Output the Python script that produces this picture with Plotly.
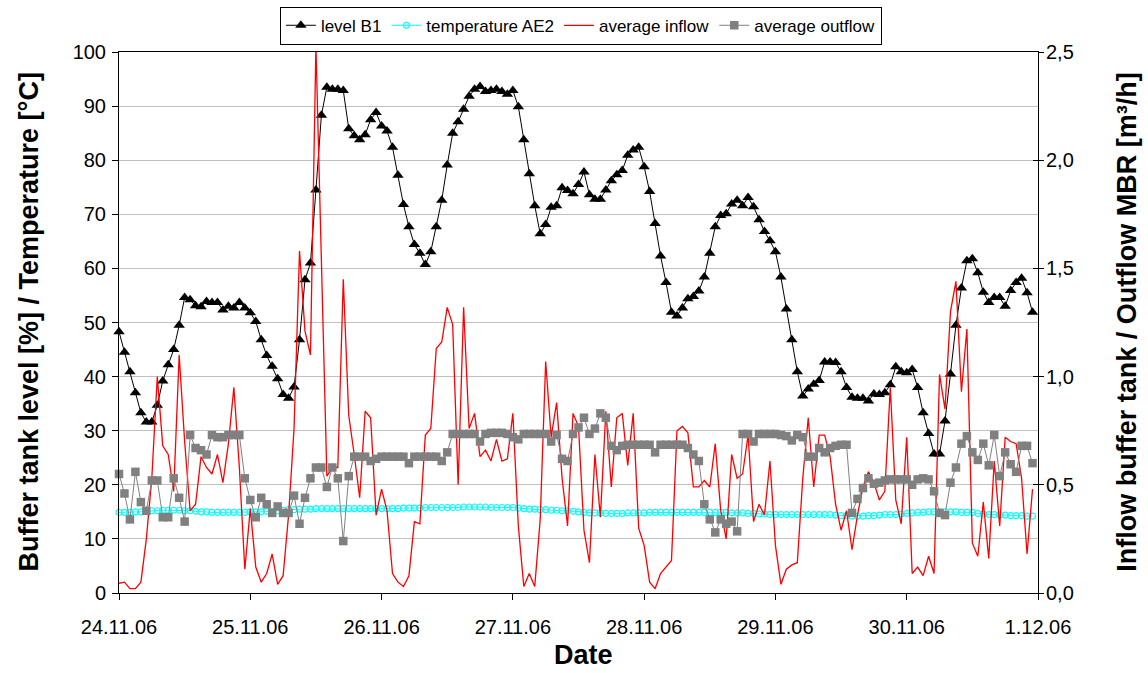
import pandas as pd
import plotly.graph_objects as go

# Hourly readings, 24.11.2006 00:00 - 30.11.2006 23:00 (one row of 24 values per day)
level_b1 = [
    48.3, 44.5, 40.9, 37.0, 33.3, 31.6, 31.6, 34.7, 39.2, 42.2, 45.0, 49.5, 54.6, 54.2, 53.1, 52.9, 53.9, 53.7, 53.7, 52.3, 53.0, 52.7, 53.7, 52.7,
    51.8, 50.2, 46.8, 43.9, 41.9, 39.6, 36.7, 36.0, 38.1, 46.8, 57.9, 61.0, 74.5, 88.3, 93.5, 93.1, 93.1, 92.9, 85.8, 84.5, 83.8, 84.7, 87.5, 88.8,
    86.3, 85.4, 82.4, 77.2, 71.8, 67.7, 64.4, 62.8, 60.7, 63.1, 67.7, 72.6, 79.1, 85.0, 87.1, 89.4, 91.8, 93.1, 93.6, 92.7, 92.9, 93.1, 92.7, 92.2,
    92.9, 89.9, 83.8, 77.5, 71.6, 66.4, 68.1, 71.3, 71.6, 74.9, 74.4, 73.8, 75.5, 77.8, 73.6, 72.8, 72.8, 74.5, 76.2, 77.3, 78.1, 80.9, 81.9, 82.4,
    78.8, 74.2, 68.3, 62.3, 57.4, 51.9, 51.2, 52.7, 54.4, 54.8, 55.8, 58.4, 62.8, 67.7, 69.8, 70.1, 71.9, 72.6, 71.6, 73.1, 71.4, 69.0, 66.8, 65.1,
    63.1, 58.4, 52.5, 46.8, 40.9, 36.4, 37.7, 38.6, 39.3, 42.7, 42.7, 42.6, 40.9, 38.0, 36.2, 36.0, 36.0, 35.5, 36.8, 36.7, 37.0, 38.5, 41.8, 40.9,
    40.7, 41.3, 38.0, 33.3, 29.5, 25.7, 25.7, 31.8, 40.5, 49.5, 56.4, 61.4, 61.8, 59.2, 55.6, 53.7, 54.6, 54.6, 53.0, 55.9, 57.4, 58.2, 55.5, 51.9,
]

temperature_ae2 = [
    14.9, 14.9, 14.9, 15.0, 15.0, 15.1, 15.2, 15.2, 15.3, 15.3, 15.3, 15.3, 15.2, 15.2, 15.1, 15.0, 15.0, 14.9, 14.9, 14.9, 14.9, 14.9, 14.9, 14.9,
    15.0, 15.0, 15.0, 15.1, 15.1, 15.2, 15.3, 15.4, 15.4, 15.5, 15.5, 15.5, 15.6, 15.6, 15.6, 15.6, 15.6, 15.6, 15.6, 15.6, 15.6, 15.6, 15.6, 15.6,
    15.6, 15.6, 15.6, 15.6, 15.7, 15.7, 15.7, 15.7, 15.8, 15.8, 15.8, 15.8, 15.8, 15.8, 15.8, 15.9, 15.9, 15.9, 15.9, 15.9, 15.8, 15.8, 15.8, 15.8,
    15.8, 15.7, 15.6, 15.5, 15.5, 15.4, 15.4, 15.3, 15.3, 15.2, 15.2, 15.1, 15.0, 14.9, 14.8, 14.8, 14.8, 14.7, 14.7, 14.7, 14.7, 14.8, 14.8, 14.8,
    14.8, 14.9, 14.9, 14.9, 14.9, 14.9, 14.9, 14.9, 14.9, 14.9, 14.9, 14.9, 14.9, 14.9, 14.9, 14.9, 14.8, 14.8, 14.8, 14.7, 14.7, 14.6, 14.6, 14.5,
    14.5, 14.5, 14.5, 14.5, 14.5, 14.5, 14.5, 14.5, 14.5, 14.5, 14.5, 14.4, 14.3, 14.3, 14.2, 14.2, 14.2, 14.3, 14.3, 14.4, 14.5, 14.5, 14.5, 14.6,
    14.7, 14.8, 14.9, 14.9, 15.0, 15.0, 15.0, 15.0, 15.0, 15.0, 14.9, 14.9, 14.9, 14.7, 14.6, 14.5, 14.5, 14.4, 14.4, 14.3, 14.3, 14.3, 14.2, 14.2,
]

average_inflow = [
    0.045, 0.05, 0.02, 0.02, 0.05, 0.25, 0.53, 1.00, 0.68, 0.64, 0.47, 1.10, 0.70, 0.38, 0.41, 0.63, 0.58, 0.55, 0.64, 0.51, 0.69, 0.95, 0.58, 0.11,
    0.39, 0.12, 0.05, 0.09, 0.18, 0.04, 0.08, 0.36, 0.76, 1.58, 1.21, 1.10, 2.53, 1.55, 0.54, 0.58, 0.58, 1.45, 0.82, 0.64, 0.44, 0.84, 0.81, 0.36,
    0.48, 0.38, 0.09, 0.05, 0.03, 0.08, 0.33, 0.32, 0.73, 0.76, 1.13, 1.16, 1.32, 1.24, 0.50, 1.32, 0.76, 0.83, 0.63, 0.66, 0.61, 0.71, 0.61, 0.62,
    0.83, 0.31, 0.03, 0.09, 0.03, 0.34, 1.07, 0.72, 0.88, 0.53, 0.31, 0.83, 0.77, 0.29, 0.14, 0.64, 0.35, 0.84, 0.49, 0.81, 0.83, 0.59, 0.83, 0.30,
    0.22, 0.05, 0.02, 0.09, 0.12, 0.15, 0.75, 0.77, 0.74, 0.49, 0.49, 0.52, 0.49, 0.69, 0.38, 0.25, 0.64, 0.53, 0.55, 0.73, 0.33, 0.41, 0.36, 0.61,
    0.22, 0.04, 0.11, 0.13, 0.14, 0.53, 0.81, 0.49, 0.73, 0.73, 0.63, 0.41, 0.29, 0.38, 0.20, 0.36, 0.49, 0.56, 0.51, 0.43, 0.47, 0.95, 0.43, 0.32,
    0.72, 0.09, 0.12, 0.08, 0.17, 0.09, 1.01, 0.85, 1.30, 1.44, 0.93, 1.22, 0.23, 0.17, 0.42, 0.16, 0.61, 0.31, 0.72, 0.70, 0.69, 0.53, 0.18, 0.48,
]

average_outflow = [
    0.55, 0.46, 0.34, 0.56, 0.42, 0.38, 0.52, 0.52, 0.35, 0.35, 0.53, 0.44, 0.33, 0.73, 0.67, 0.66, 0.64, 0.73, 0.72, 0.72, 0.73, 0.73, 0.73, 0.53,
    0.43, 0.35, 0.44, 0.41, 0.37, 0.40, 0.37, 0.37, 0.45, 0.32, 0.44, 0.53, 0.58, 0.58, 0.49, 0.58, 0.53, 0.24, 0.54, 0.63, 0.63, 0.63, 0.61, 0.62,
    0.63, 0.63, 0.63, 0.63, 0.63, 0.60, 0.63, 0.63, 0.63, 0.63, 0.63, 0.61, 0.65, 0.735, 0.735, 0.735, 0.735, 0.735, 0.70, 0.735, 0.74, 0.74, 0.74, 0.735,
    0.72, 0.71, 0.735, 0.735, 0.735, 0.735, 0.735, 0.70, 0.73, 0.62, 0.61, 0.735, 0.765, 0.81, 0.735, 0.76, 0.83, 0.81, 0.68, 0.66, 0.68, 0.685, 0.685, 0.685,
    0.685, 0.685, 0.65, 0.685, 0.685, 0.685, 0.685, 0.685, 0.67, 0.64, 0.61, 0.41, 0.34, 0.28, 0.34, 0.32, 0.33, 0.285, 0.735, 0.735, 0.70, 0.735, 0.735, 0.735,
    0.735, 0.73, 0.725, 0.705, 0.73, 0.72, 0.63, 0.63, 0.67, 0.65, 0.67, 0.68, 0.685, 0.685, 0.37, 0.435, 0.485, 0.53, 0.505, 0.51, 0.52, 0.525, 0.525, 0.525,
    0.525, 0.50, 0.525, 0.53, 0.525, 0.47, 0.37, 0.36, 0.51, 0.58, 0.69, 0.725, 0.65, 0.615, 0.69, 0.59, 0.73, 0.54, 0.65, 0.595, 0.56, 0.68, 0.68, 0.60,
]

day_ticks = ["2006-11-24", "2006-11-25", "2006-11-26", "2006-11-27",
             "2006-11-28", "2006-11-29", "2006-11-30", "2006-12-01"]
day_labels = ["24.11.06", "25.11.06", "26.11.06", "27.11.06",
              "28.11.06", "29.11.06", "30.11.06", "1.12.06"]
left_ticks = [0, 10, 20, 30, 40, 50, 60, 70, 80, 90, 100]
right_ticks = [0.0, 0.5, 1.0, 1.5, 2.0, 2.5]
right_labels = ["0,0", "0,5", "1,0", "1,5", "2,0", "2,5"]

times = pd.date_range("2006-11-24 00:00", periods=len(level_b1), freq="h")

FONT = "Liberation Sans, Arial, sans-serif"

fig = go.Figure()

fig.add_trace(go.Scatter(
    x=times, y=level_b1, name="level B1", mode="lines+markers",
    line=dict(color="black", width=1),
    marker=dict(symbol="triangle-up", size=10, color="black"),
    cliponaxis=False,
))
fig.add_trace(go.Scatter(
    x=times, y=temperature_ae2, name="temperature AE2", mode="lines+markers",
    line=dict(color="#00ffff", width=1),
    marker=dict(symbol="circle-open", size=6, color="#00ffff", line=dict(width=1.2)),
    cliponaxis=False,
))
fig.add_trace(go.Scatter(
    x=times, y=average_inflow, name="average inflow", mode="lines",
    line=dict(color="#ff0000", width=1.3),
    yaxis="y2",
))
fig.add_trace(go.Scatter(
    x=times, y=average_outflow, name="average outflow", mode="lines+markers",
    line=dict(color="#808080", width=1),
    marker=dict(symbol="square", size=8.5, color="#808080"),
    yaxis="y2", cliponaxis=False,
))

tick_font = dict(family=FONT, size=20, color="black")
title_font = dict(family=FONT, size=27, color="black", weight="bold")

fig.update_layout(
    width=1148, height=673,
    margin=dict(l=119, r=110, t=52, b=80, autoexpand=False),
    paper_bgcolor="white", plot_bgcolor="white",
    font=dict(family=FONT, color="black"),
    showlegend=True,
    legend=dict(
        orientation="h", xref="container", yref="container",
        x=0.506, xanchor="center", y=0.99, yanchor="top",
        font=dict(family=FONT, size=17, color="black"),
        bordercolor="black", borderwidth=1, bgcolor="white",
        itemwidth=30, tracegroupgap=0,
    ),
    xaxis=dict(
        range=[day_ticks[0], day_ticks[-1]],
        tickvals=day_ticks, ticktext=day_labels,
        ticks="outside", ticklen=6, tickcolor="black", tickwidth=1,
        ticklabelstandoff=10,
        showline=True, linecolor="black", linewidth=1, mirror=True,
        showgrid=False, zeroline=False, tickfont=tick_font,
    ),
    yaxis=dict(
        range=[0, 100], tickvals=left_ticks,
        ticks="outside", ticklen=6, tickcolor="black", tickwidth=1,
        ticklabelstandoff=2,
        showline=True, linecolor="black", linewidth=1,
        showgrid=True, gridcolor="#c0c0c0", gridwidth=1,
        zeroline=False, tickfont=tick_font,
    ),
    # secondary axis: labels close to the line, inner half of the crossing ticks
    yaxis2=dict(
        range=[0, 2.5], tickvals=right_ticks, ticktext=right_labels,
        overlaying="y", side="right", anchor="x",
        ticks="inside", ticklen=5, tickcolor="black", tickwidth=1,
        ticklabelstandoff=3,
        showline=True, linecolor="black", linewidth=1,
        showgrid=False, zeroline=False, tickfont=tick_font,
    ),
    # outer half of the crossing tick marks on the secondary axis
    yaxis3=dict(
        range=[0, 2.5], tickvals=right_ticks,
        overlaying="y", side="right", anchor="x",
        ticks="outside", ticklen=5, tickcolor="black", tickwidth=1,
        showticklabels=False, showline=False, showgrid=False, zeroline=False,
    ),
    annotations=[
        dict(text="Buffer tank level [%] / Temperature [°C]", textangle=-90,
             xref="paper", yref="paper", x=-0.099, y=0.5,
             xanchor="center", yanchor="middle", showarrow=False, font=title_font),
        dict(text="Inflow buffer tank / Outflow MBR [m³/h]", textangle=-90,
             xref="paper", yref="paper", x=1.096, y=0.5,
             xanchor="center", yanchor="middle", showarrow=False, font=title_font),
        dict(text="Date", xref="paper", yref="paper", x=0.505, y=-0.114,
             xanchor="center", yanchor="middle", showarrow=False, font=title_font),
    ],
)

# invisible point so the outer tick axis is drawn
fig.add_trace(go.Scatter(x=[times[0]], y=[0], yaxis="y3", mode="markers",
                         marker=dict(opacity=0), showlegend=False, hoverinfo="skip"))

fig.write_html("out.html")
